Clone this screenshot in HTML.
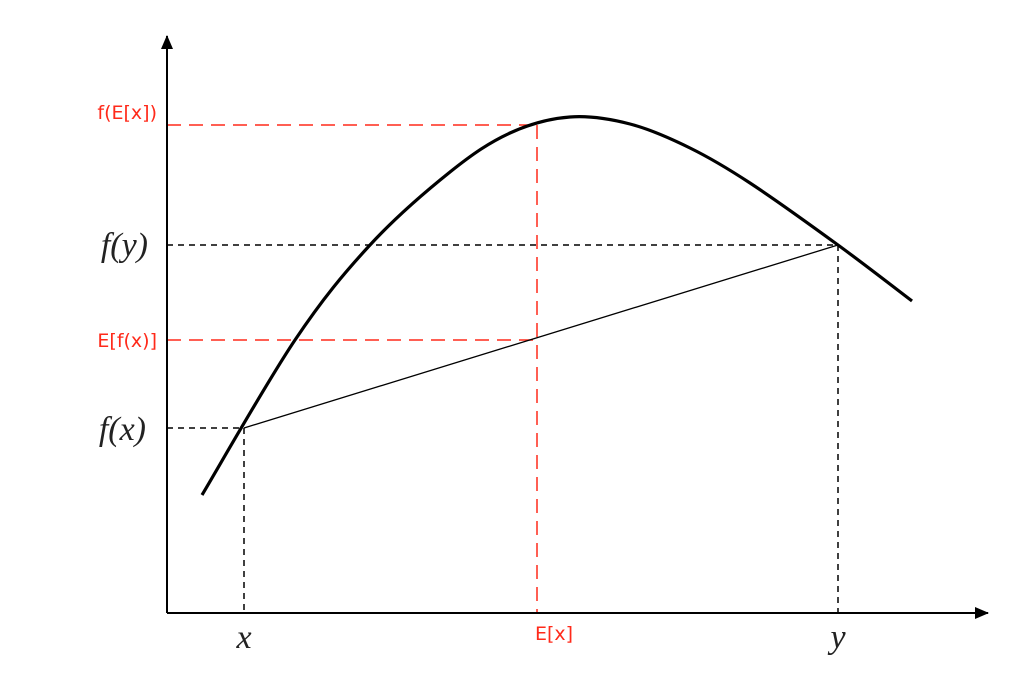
<!DOCTYPE html>
<html><head><meta charset="utf-8">
<style>
html,body{margin:0;padding:0;background:#fff;}
svg{display:block;}
.math{font-family:"Liberation Serif",serif;font-style:italic;font-size:34px;fill:#222;}
.red{font-family:"DejaVu Sans","Liberation Sans",sans-serif;font-size:19px;fill:#ff2a1a;}
</style></head>
<body>
<svg id="chart" width="1026" height="690" viewBox="0 0 1026 690" xmlns="http://www.w3.org/2000/svg">
<defs>
<marker id="arr" markerWidth="14" markerHeight="12" refX="13" refY="6" orient="auto" markerUnits="userSpaceOnUse"><path d="M0,0 L14,6 L0,12 z" fill="#000"/></marker>
</defs>
<g id="g"></g>
</svg>
<script>
// curve samples (axis units: x from origin, y from origin)
const curveX = [35, 128, 203, 283, 343, 403, 463, 523, 583, 671, 745];
const curveY = [118, 273, 368, 441, 480, 496, 489, 465, 430, 368, 312];
const pointXLabels = ["x", "E[x]", "y"];
const pointXValues = [77, 370, 671];
const yLevels = [185, 273, 368, 488];
const yLabels = ["f(x)", "E[f(x)]", "f(y)", "f(E[x])"];
const ox = 167, oy = 613;
function xs(v){return ox+v;}
function ys(v){return oy-v;}
const NS="http://www.w3.org/2000/svg";
const g=document.getElementById('g');
function mk(tag,attrs,name){const e=document.createElementNS(NS,tag);for(const k in attrs)e.setAttribute(k,attrs[k]);


g.appendChild(e);return e;}
function line(x1,y1,x2,y2,st,name){return mk('line',Object.assign({x1,y1,x2,y2},st),name);}
const blackDash={stroke:'#000','stroke-width':1.5,'stroke-dasharray':'6,5'};
const redDash={stroke:'#ff2a1a','stroke-width':1.5,'stroke-dasharray':'14,8'};
const px=pointXValues.map(xs);
const fx=ys(yLevels[0]), efx=ys(yLevels[1]), fy=ys(yLevels[2]), fex=ys(yLevels[3]);
line(ox,fx,px[0],fx,blackDash,'fx-guide');
line(px[0],fx,px[0],oy,blackDash,'x-guide');
line(ox,fy,px[2],fy,blackDash,'fy-guide');
line(px[2],fy,px[2],oy,blackDash,'y-guide');
line(ox,efx,px[1],efx,redDash,'efx-guide');
line(ox,fex,px[1],fex,redDash,'fex-guide');
line(px[1],fex,px[1],oy,redDash,'ex-guide');
line(px[0],fx,px[2],fy,{stroke:'#000','stroke-width':1.3},'chord');
const P=curveX.map((x,i)=>[xs(x),ys(curveY[i])]);
let d=`M${P[0][0]},${P[0][1]}`;
for(let i=0;i<P.length-1;i++){const p0=P[Math.max(0,i-1)],p1=P[i],p2=P[i+1],p3=P[Math.min(P.length-1,i+2)];
d+=` C${p1[0]+(p2[0]-p0[0])/6},${p1[1]+(p2[1]-p0[1])/6} ${p2[0]-(p3[0]-p1[0])/6},${p2[1]-(p3[1]-p1[1])/6} ${p2[0]},${p2[1]}`;}
mk('path',{d,fill:'none',stroke:'#000','stroke-width':3.2,'stroke-linejoin':'round'},'concave-curve');
line(ox,oy,ox,36,{stroke:'#000','stroke-width':2,'marker-end':'url(#arr)'},'y-axis');
line(ox,oy,988,oy,{stroke:'#000','stroke-width':2,'marker-end':'url(#arr)'},'x-axis');
function txt(s,x,y,cls,anchor,name){const t=mk('text',{x,y,'class':cls,'text-anchor':anchor},name);t.textContent=s;return t;}
txt(pointXLabels[0],px[0],648,'math','middle','x-label');
txt(pointXLabels[1],px[1]+17,640,'red','middle','ex-label');
txt(pointXLabels[2],px[2],648,'math','middle','y-label');
txt(yLabels[0],146,440,'math','end','fx-label');
txt(yLabels[1],157,347,'red','end','efx-label');
txt(yLabels[2],148,256,'math','end','fy-label');
txt(yLabels[3],157,119,'red','end','fex-label');
</script>
</body></html>
